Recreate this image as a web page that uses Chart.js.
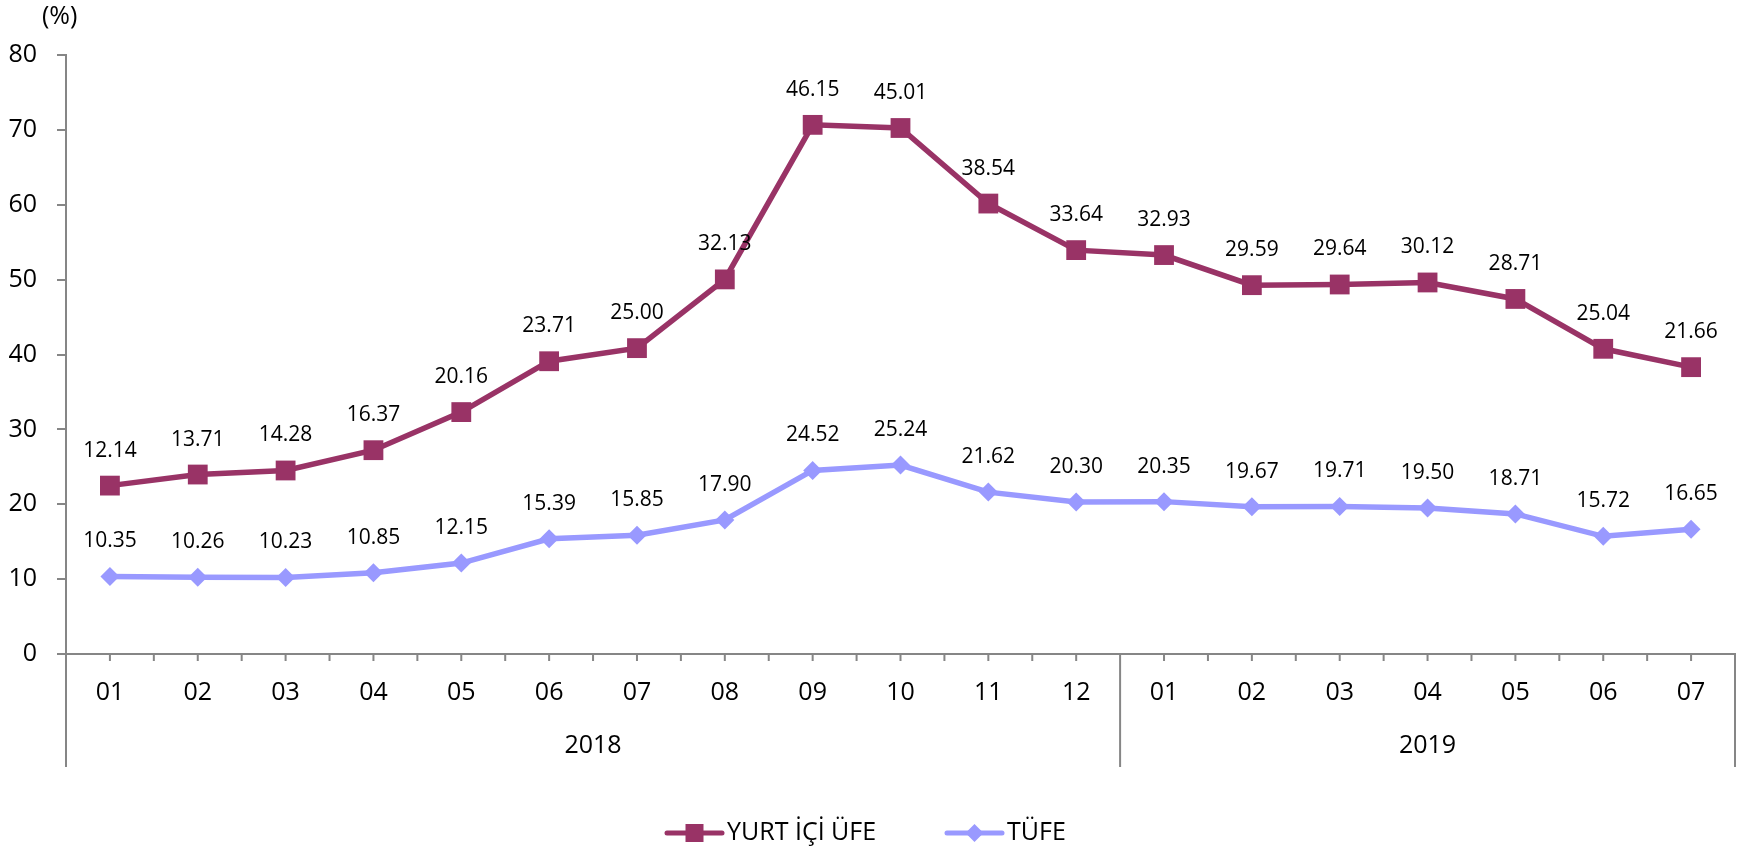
<!DOCTYPE html>
<html>
<head>
<meta charset="utf-8">
<script src="https://cdn.jsdelivr.net/npm/chart.js@4"></script>
<style>
  html, body { margin: 0; padding: 0; background: #fff; overflow: hidden; }
  #wrap { width: 1740px; height: 849px; position: relative; }
  canvas { display: block; }
</style>
</head>
<body>
<div id="wrap"><canvas id="chartLine"></canvas></div>
<script>
// ### veriler
const months = ['01', '02', '03', '04', '05', '06', '07', '08', '09', '10', '11', '12',
                '01', '02', '03', '04', '05', '06', '07'];
const years = ['2018', '2019'];
const yearSpans = [12, 7];   // how many months under each year
const ufe = [12.14, 13.71, 14.28, 16.37, 20.16, 23.71, 25.00, 32.13, 46.15, 45.01, 38.54, 33.64,
             32.93, 29.59, 29.64, 30.12, 28.71, 25.04, 21.66];
const tufe = [10.35, 10.26, 10.23, 10.85, 12.15, 15.39, 15.85, 17.90, 24.52, 25.24, 21.62, 20.30,
              20.35, 19.67, 19.71, 19.50, 18.71, 15.72, 16.65];
const yTicks = [0, 10, 20, 30, 40, 50, 60, 70, 80];

const FONT = '"Open Sans", "Noto Sans", sans-serif';
const AXIS = '#868686';
const UFE_COLOR = '#993366';
const TUFE_COLOR = '#9999FF';

// ### etiketler, eksen ayrintilari ve lejant
const extras = {
    id: 'extras',
    afterDatasetsDraw(chart) {
        const ctx = chart.ctx;
        ctx.save();
        ctx.fillStyle = '#000';
        ctx.font = '21px ' + FONT;
        ctx.textAlign = 'center';
        ctx.textBaseline = 'middle';
        chart.data.datasets.forEach((ds, i) => {
            chart.getDatasetMeta(i).data.forEach((pt, j) => {
                ctx.fillText(ds.data[j].toFixed(2), pt.x, pt.y - 35);
            });
        });
        ctx.restore();
    },
    afterDraw(chart) {
        const ctx = chart.ctx;
        const area = chart.chartArea;
        const step = (area.right - area.left) / months.length;
        const bottom = 767;
        ctx.save();
        ctx.strokeStyle = AXIS;
        ctx.lineWidth = 2;
        // tick marks at centres and boundaries
        ctx.beginPath();
        for (let k = 1; k < months.length * 2; k++) {
            const px = area.left + k * step / 2;
            ctx.moveTo(px, area.bottom);
            ctx.lineTo(px, area.bottom + 7);
        }
        // year separators
        let idx = 0;
        const seps = [0];
        yearSpans.forEach(n => { idx += n; seps.push(idx); });
        seps.forEach(s => {
            const px = area.left + s * step;
            ctx.moveTo(px, area.bottom);
            ctx.lineTo(px, bottom);
        });
        ctx.stroke();

        ctx.fillStyle = '#000';
        ctx.font = '25px ' + FONT;
        ctx.textAlign = 'center';
        ctx.textBaseline = 'middle';
        years.forEach((y, i) => {
            const cx = area.left + (seps[i] + seps[i + 1]) / 2 * step;
            ctx.fillText(y, cx, 746);
        });

        // (%)
        ctx.textAlign = 'left';
        ctx.fillText('(%)', 42, 17);

        // legend
        const ly = 833;
        const items = [
            { label: 'YURT İÇİ ÜFE', color: UFE_COLOR, x: 667, shape: 'rect' },
            { label: 'TÜFE', color: TUFE_COLOR, x: 947, shape: 'diamond' }
        ];
        items.forEach(it => {
            ctx.strokeStyle = it.color;
            ctx.fillStyle = it.color;
            ctx.lineWidth = 5;
            ctx.lineCap = 'round';
            ctx.beginPath();
            ctx.moveTo(it.x, ly);
            ctx.lineTo(it.x + 55, ly);
            ctx.stroke();
            const mx = it.x + 27.5;
            ctx.beginPath();
            if (it.shape === 'rect') {
                ctx.rect(mx - 9, ly - 9, 18, 18);
            } else {
                ctx.moveTo(mx, ly - 9);
                ctx.lineTo(mx + 9, ly);
                ctx.lineTo(mx, ly + 9);
                ctx.lineTo(mx - 9, ly);
                ctx.closePath();
            }
            ctx.fill();
            ctx.fillStyle = '#000';
            ctx.textAlign = 'left';
            ctx.fillText(it.label, it.x + 60, ly);
        });
        ctx.restore();
    }
};

function createLine(element) {
    const data = {
        labels: months,
        datasets: [{
            label: 'TÜFE',
            data: tufe,
            borderColor: TUFE_COLOR,
            backgroundColor: TUFE_COLOR,
            borderWidth: 5.5,
            pointStyle: 'rectRot',
            pointRadius: 9.5,
            pointBorderWidth: 0,
            fill: false,
            tension: 0
        }, {
            label: 'YURT İÇİ ÜFE',
            data: ufe,
            borderColor: UFE_COLOR,
            backgroundColor: UFE_COLOR,
            borderWidth: 5.5,
            pointStyle: 'rect',
            pointRadius: 14,
            pointBorderWidth: 0,
            fill: false,
            tension: 0
        }]
    };

    const config = {
        type: 'line',
        data: data,
        plugins: [extras],
        options: {
            responsive: true,
            maintainAspectRatio: false,
            animation: false,
            events: [],
            layout: { autoPadding: false, padding: { top: 55, right: 5, bottom: 0, left: 0 } },
            plugins: { legend: { display: false }, tooltip: { enabled: false } },
            scales: {
                x: {
                    offset: true,
                    grid: { display: false, drawTicks: false },
                    border: { display: true, color: AXIS, width: 2 },
                    ticks: { color: '#000', font: { size: 25, family: FONT }, padding: 24, maxRotation: 0, autoSkip: false },
                    afterFit: s => { s.height = 195; s.paddingLeft = 0; s.paddingRight = 0; }
                },
                y: {
                    stacked: true,
                    min: 0,
                    max: 80,
                    afterBuildTicks: s => { s.ticks = yTicks.map(v => ({ value: v })); },
                    grid: { display: true, drawOnChartArea: false, drawTicks: true, tickLength: 9, color: AXIS, lineWidth: 2 },
                    border: { display: true, color: AXIS, width: 2 },
                    ticks: { color: '#000', font: { size: 25, family: FONT }, padding: 20 },
                    afterFit: s => { s.width = 66; }
                }
            }
        }
    };
    new Chart(element, config);
}

createLine(document.getElementById('chartLine'));
</script>
</body>
</html>
